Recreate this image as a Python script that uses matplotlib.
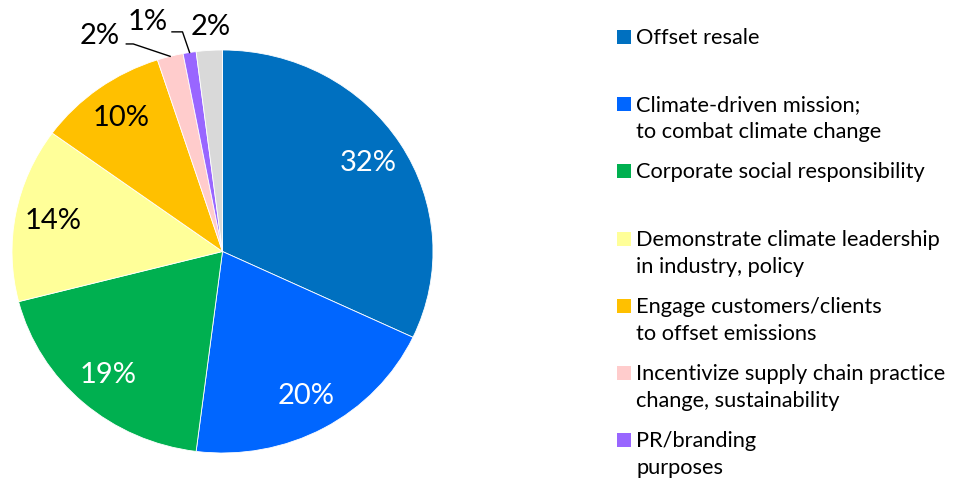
import numpy as np
import matplotlib.pyplot as plt
from matplotlib.patches import Rectangle

plt.rcParams['font.family'] = ['Lato', 'DejaVu Sans']

# Data
labels = ['Offset resale',
          'Climate-driven mission;\nto combat climate change',
          'Corporate social responsibility',
          'Demonstrate climate leadership\nin industry, policy',
          'Engage customers/clients\nto offset emissions',
          'Incentivize supply chain practice\nchange, sustainability',
          'PR/branding\npurposes',
          'Other']
values = [32, 20, 19, 14, 10, 2, 1, 2]
colors = ['#0070C0', '#0066FF', '#00B050', '#FFFF99', '#FFC000', '#FFCCCC', '#9966FF', '#D9D9D9']
pct_colors = ['white', 'white', 'white', 'black', 'black', 'black', 'black', 'black']

W, H = 955, 479
fig = plt.figure(figsize=(W / 100, H / 100), dpi=100)

# pie axes (slightly wider than tall, as in the reference)
ax = fig.add_axes([12 / W, (H - 453) / H, 421 / W, 403 / H])
wedges, texts, autotexts = ax.pie(values, colors=colors, startangle=90, counterclock=False,
                                  autopct='%1.0f%%', pctdistance=0.82,
                                  wedgeprops=dict(edgecolor='white', linewidth=0.6),
                                  textprops=dict(fontsize=21))
ax.set_aspect('auto')
ax.set_xlim(-1, 1)
ax.set_ylim(-1, 1)
ax.axis('off')

for t, c in zip(autotexts, pct_colors):
    t.set_color(c)

# small slices: labels moved outside with leader lines
outside = {5: (-0.585, 1.07), 6: (-0.355, 1.14), 7: (-0.055, 1.115)}
for i, (x, y) in outside.items():
    autotexts[i].set_position((x, y))
    autotexts[i].set_clip_on(False)

def edge_point(w):
    ang = np.deg2rad((w.theta1 + w.theta2) / 2)
    return np.cos(ang), np.sin(ang)

ex, ey = edge_point(wedges[5])
ax.plot([-0.457, -0.424, ex], [1.03, 1.03, ey], color='black', lw=1, clip_on=False)
ex, ey = edge_point(wedges[6])
ax.plot([-0.24, -0.19, ex], [1.09, 1.09, ey], color='black', lw=1, clip_on=False)

# legend (first seven categories)
base0 = 44
step = 67.2
line_h = 27
for i in range(7):
    base = base0 + i * step
    fig.patches.append(Rectangle((617 / W, (H - base) / H), 14 / W, 14 / H,
                                 transform=fig.transFigure, facecolor=colors[i],
                                 edgecolor='none'))
    for j, line in enumerate(labels[i].split('\n')):
        fig.text(636 / W, (H - base - j * line_h) / H, line, fontsize=15.7,
                 va='baseline', ha='left', color='black')

fig.savefig('out.png', dpi=100)
